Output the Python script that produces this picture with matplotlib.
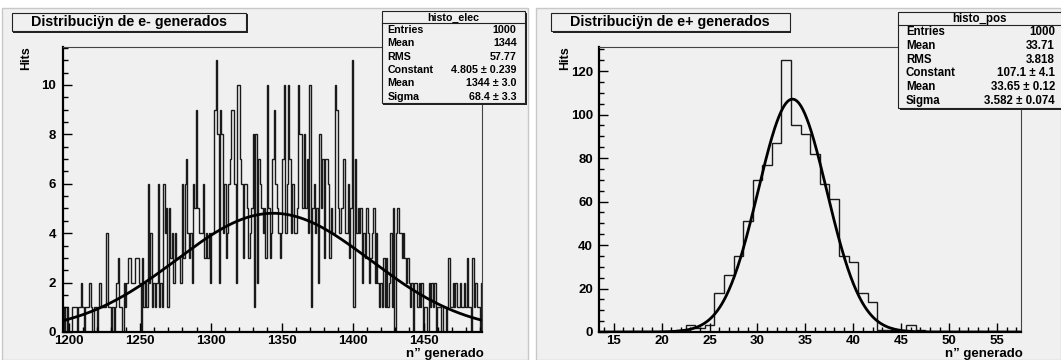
import numpy as np
import matplotlib
matplotlib.use("Agg")
import matplotlib.pyplot as plt
from matplotlib.patches import Rectangle
from matplotlib.ticker import MultipleLocator

plt.rcParams['font.family'] = ['Liberation Sans', 'DejaVu Sans']
plt.rcParams['font.weight'] = 'bold'

# electrons: one bin per integer value, starting at 1196
elec_first = 1196
elec_counts = [
    0, 1, 0, 1, 0, 0, 0, 1, 1, 1,
    0, 1, 1, 2, 1, 0, 1, 1, 1, 2,
    1, 0, 1, 1, 0, 1, 2, 1, 1, 1,
    1, 4, 1, 1, 0, 1, 0, 1, 2, 3,
    1, 1, 0, 2, 1, 2, 3, 3, 2, 2,
    2, 3, 3, 3, 2, 0, 3, 1, 2, 1,
    6, 2, 4, 1, 2, 1, 2, 6,
    1, 2, 1, 6, 4, 5, 1, 5, 3, 4,
    2, 4, 3, 3, 3, 2, 6, 3, 6, 7,
    4, 3, 4, 2, 6, 5, 9, 5, 4, 4,
    4, 6, 3, 4, 3, 4, 2, 4, 4, 9,
    11, 8, 2, 9, 8, 4, 6, 3, 4, 6,
    7, 9, 9, 6, 2, 10, 10, 7, 6, 3,
    6, 6, 5, 3,
    4, 5, 8, 1, 8, 2, 7, 6, 5, 4,
    5, 3, 10, 5, 3, 4, 7, 9, 6, 5,
    4, 3, 4, 7, 10, 4, 6, 10, 7, 4,
    6, 4, 4, 5, 10, 8, 8, 5, 8, 5,
    7, 4, 10, 1, 5, 6, 4, 5, 2, 8,
    5, 7, 3, 7, 7, 6, 3, 5, 4, 4,
    10, 9, 5, 4,
    5, 5, 7, 4, 4, 6, 3, 5, 11, 1,
    7, 4, 5, 4, 5, 2, 4, 3, 5, 4,
    2, 3, 4, 5, 2, 4, 2, 1, 2, 1,
    3, 1, 3, 1, 2, 4, 1, 5, 0,
    4, 5, 4, 4, 3, 4, 3, 2, 3, 2,
    1, 2, 0, 2, 2, 1, 2, 1, 2, 0,
    1, 1, 0, 2, 1, 2, 1, 2, 0, 1,
    1, 1, 0, 1, 1, 0, 1, 3, 1, 1,
    2, 1, 2, 1, 1, 2, 1, 1, 2, 1,
    3, 1, 1, 0, 3, 1, 2, 1, 1, 0,
    2,
]

# positrons: one bin per integer value, starting at 14
pos_first = 14
pos_counts = [
    0, 0, 0, 0, 0, 0, 0, 0, 1, 3,
    2, 3, 18, 26, 35, 51, 70, 77, 87, 125,
    95, 91, 82, 68, 61, 35, 32, 18, 14, 1,
    1, 0, 3, 1, 0, 0, 0, 0, 0, 0,
    0, 0, 0, 0,
]

# gaussian fit parameters (constant, mean, sigma) as printed in the boxes
elec_fit = (4.805, 1344.0, 68.4)
pos_fit = (107.1, 33.65, 3.582)

elec_stats = [("Entries", "1000"), ("Mean", "1344"), ("RMS", "57.77"),
              ("Constant", "4.805 ± 0.239"), ("Mean", "1344 ± 3.0"),
              ("Sigma", "68.4 ± 3.3")]
pos_stats = [("Entries", "1000"), ("Mean", "33.71"), ("RMS", "3.818"),
             ("Constant", "107.1 ± 4.1"), ("Mean", "33.65 ± 0.12"),
             ("Sigma", "3.582 ± 0.074")]

BG = '#f0f0f0'
W, H = 1061, 360

fig = plt.figure(figsize=(W / 100, H / 100), dpi=100, facecolor='white')

# the two pads
for x0, x1 in [(2, 528), (536, 1061)]:
    fig.add_artist(Rectangle((x0 / W, 0), (x1 - x0) / W, 1 - 8 / H,
                             transform=fig.transFigure, fc=BG, ec='#c8c8c8',
                             lw=1, zorder=-5))


def gauss(x, p):
    c, m, s = p
    return c * np.exp(-0.5 * ((x - m) / s) ** 2)


def panel(rect, first, counts, fit, xlim, xmaj, xmin, ymaj, ymin):
    ax = fig.add_axes(rect)
    ax.set_facecolor('none')
    edges = np.arange(len(counts) + 1) + first - 0.5
    ax.stairs(counts, edges, color='#1a1a1a', lw=1.0)
    xs = np.linspace(xlim[0], xlim[1], 600)
    ax.plot(xs, gauss(xs, fit), color='black', lw=2)
    ax.set_xlim(*xlim)
    ax.set_ylim(0, max(counts) * 1.05)
    ax.xaxis.set_major_locator(MultipleLocator(xmaj))
    ax.xaxis.set_minor_locator(MultipleLocator(xmin))
    ax.yaxis.set_major_locator(MultipleLocator(ymaj))
    ax.yaxis.set_minor_locator(MultipleLocator(ymin))
    ax.tick_params(which='both', direction='in', top=False, right=False,
                   width=1, color='black')
    ax.tick_params(which='major', length=6.5)
    ax.tick_params(which='minor', length=3.3)
    ax.tick_params(axis='x', labelsize=9.5, pad=2.5)
    ax.tick_params(axis='y', labelsize=9.5, pad=4.5)
    for s in ['left', 'bottom']:
        ax.spines[s].set_linewidth(1.6)
        ax.spines[s].set_color('black')
    for s in ['top', 'right']:
        ax.spines[s].set_linewidth(0.8)
        ax.spines[s].set_color('#444444')
    for lab in ax.get_xticklabels() + ax.get_yticklabels():
        lab.set_fontweight('bold')
    return ax


bottom = 1 - 332 / H
height = (332 - 46.6) / H
panel([62.5 / W, bottom, (481.7 - 62.5) / W, height], elec_first, elec_counts,
      elec_fit, (1195.5, 1491.0), 50, 10, 2, 0.5)
panel([599.3 / W, bottom, (1021.1 - 599.3) / W, height], pos_first, pos_counts,
      pos_fit, (13.5, 57.5), 5, 1, 20, 5)

# overlay in pixel coordinates for boxes and labels
ov = fig.add_axes([0, 0, 1, 1], zorder=10)
ov.set_xlim(0, W)
ov.set_ylim(H, 0)
ov.axis('off')
ov.patch.set_alpha(0)


def box(x0, y0, x1, y1):
    ov.add_patch(Rectangle((x0 + 1.5, y0 + 1.5), x1 - x0, y1 - y0,
                           fc='#222222', ec='none'))
    ov.add_patch(Rectangle((x0, y0), x1 - x0, y1 - y0, fc=BG, ec='#222222',
                           lw=0.8))


def stats(x0, y0, x1, y1, name, rows, size, lx, vx):
    box(x0, y0, x1, y1)
    sep = y0 + (y1 - y0) * 0.135
    ov.plot([x0, x1], [sep, sep], color='#222222', lw=0.8)
    ov.text((x0 + min(x1, W)) / 2, (y0 + sep) / 2 + 0.5, name, ha='center',
            va='center', size=size)
    step = (y1 - sep) / len(rows)
    for i, (k, v) in enumerate(rows):
        yy = sep + step * (i + 0.5)
        ov.text(lx, yy, k, ha='left', va='center', size=size)
        ov.text(vx, yy, v, ha='right', va='center', size=size)


# titles
box(11.8, 12.8, 246, 31)
ov.text(129, 22.3, 'Distribuciÿn de e- generados', ha='center', va='center',
        size=10.3)
box(551, 12.8, 789.6, 31)
ov.text(670.3, 22.3, 'Distribuciÿn de e+ generados', ha='center', va='center',
        size=10.3)

stats(381.7, 11, 525, 103.3, 'histo_elec', elec_stats, 7.7, 387.3, 516.7)
stats(898, 11.7, 1064, 108.3, 'histo_pos', pos_stats, 8.3, 906, 1055)

# axis titles
for x in [26, 565.5]:
    ov.text(x, 46.6, 'Hits', rotation=90, ha='center', va='top', size=9)
for x in [483.4, 1022.8]:
    ov.text(x, 354, 'n” generado', ha='right', va='center', size=9.5)

fig.savefig('out.png', dpi=100, facecolor='white')
